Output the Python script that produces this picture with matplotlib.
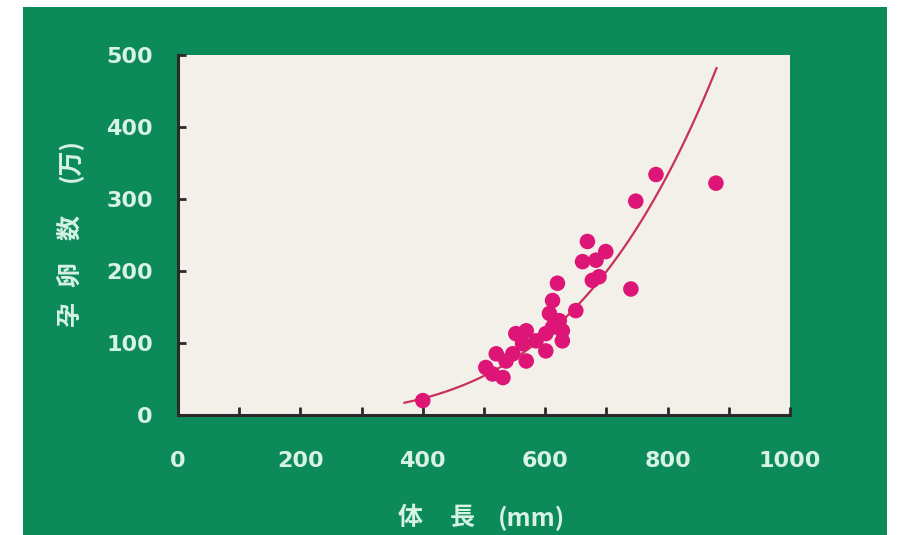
import numpy as np
import matplotlib
matplotlib.use("Agg")
import matplotlib.pyplot as plt
from matplotlib.patches import Rectangle

# body length (mm) vs. egg count (x10^4)
body_len = [400, 503, 514, 520, 531, 536, 547, 552, 563, 569, 569, 585, 601, 601,
            607, 612, 612, 620, 623, 628, 628, 650, 661, 669, 677, 683, 688, 699,
            740, 748, 781, 879]
eggs = [20, 66, 57, 85, 52, 75, 85, 113, 99, 117, 75, 103, 89, 113,
        141, 122, 159, 183, 131, 117, 103, 145, 213, 241, 187, 215, 192, 227,
        175, 297, 334, 322]

# fitted power curve  eggs = A * (L / L0) ** B
FIT_L0, FIT_A, FIT_B = 370.0, 17.0, 3.86
FIT_RANGE = (370, 880)

GREEN = "#0c8a5a"
PANEL = "#f3f0ea"
INK = "#d6f3e4"
DOT = "#dd1577"
CURVE = "#c8325a"

W, H = 899, 535
fig = plt.figure(figsize=(W / 100, H / 100), dpi=100)
fig.patch.set_facecolor("white")
fig.add_artist(Rectangle((23 / W, 0), (887 - 23) / W, (H - 7) / H,
                         transform=fig.transFigure, facecolor=GREEN,
                         edgecolor="none", zorder=0))

ax = fig.add_axes([178 / W, (H - 415) / H, (790 - 178) / W, (415 - 55) / H])
ax.set_facecolor(PANEL)
ax.set_xlim(0, 1000)
ax.set_ylim(0, 500)

lx = np.linspace(*FIT_RANGE, 200)
ax.plot(lx, FIT_A * (lx / FIT_L0) ** FIT_B, color=CURVE, lw=1.6, zorder=2)
ax.scatter(body_len, eggs, s=125, color=DOT, edgecolors="none", zorder=3)

for side in ("top", "right"):
    ax.spines[side].set_visible(False)
for side in ("left", "bottom"):
    ax.spines[side].set_color("#2a2a2a")
    ax.spines[side].set_linewidth(2.2)

xt = list(range(0, 1001, 100))
ax.set_xticks(xt)
ax.set_xticklabels([str(v) if v % 200 == 0 else "" for v in xt])
ax.set_yticks(range(0, 501, 100))
ax.tick_params(axis="both", direction="in", length=6, width=2, color="#2a2a2a",
               labelcolor=INK, labelsize=16)
ax.tick_params(axis="x", pad=26)
ax.tick_params(axis="y", pad=18)
for lab in ax.get_xticklabels() + ax.get_yticklabels():
    lab.set_fontweight("bold")
    lab.set_family("DejaVu Sans")

# axis titles, placed glyph by glyph for the wide spacing
cjk = ["Noto Sans CJK JP", "DejaVu Sans"]
for txt, px in (("体", 410), ("長", 462), ("(mm)", 532)):
    fig.text(px / W, 1 - 518 / H, txt, color=INK, fontsize=18, fontweight="bold",
             family=cjk, ha="center", va="center")
for txt, py in (("孕", 313), ("卵", 275), ("数", 228), ("(万)", 160)):
    fig.text(70 / W, 1 - py / H, txt, color=INK, fontsize=18, fontweight="bold",
             family=cjk, ha="center", va="center", rotation=90)

fig.savefig("out.png", dpi=100)
